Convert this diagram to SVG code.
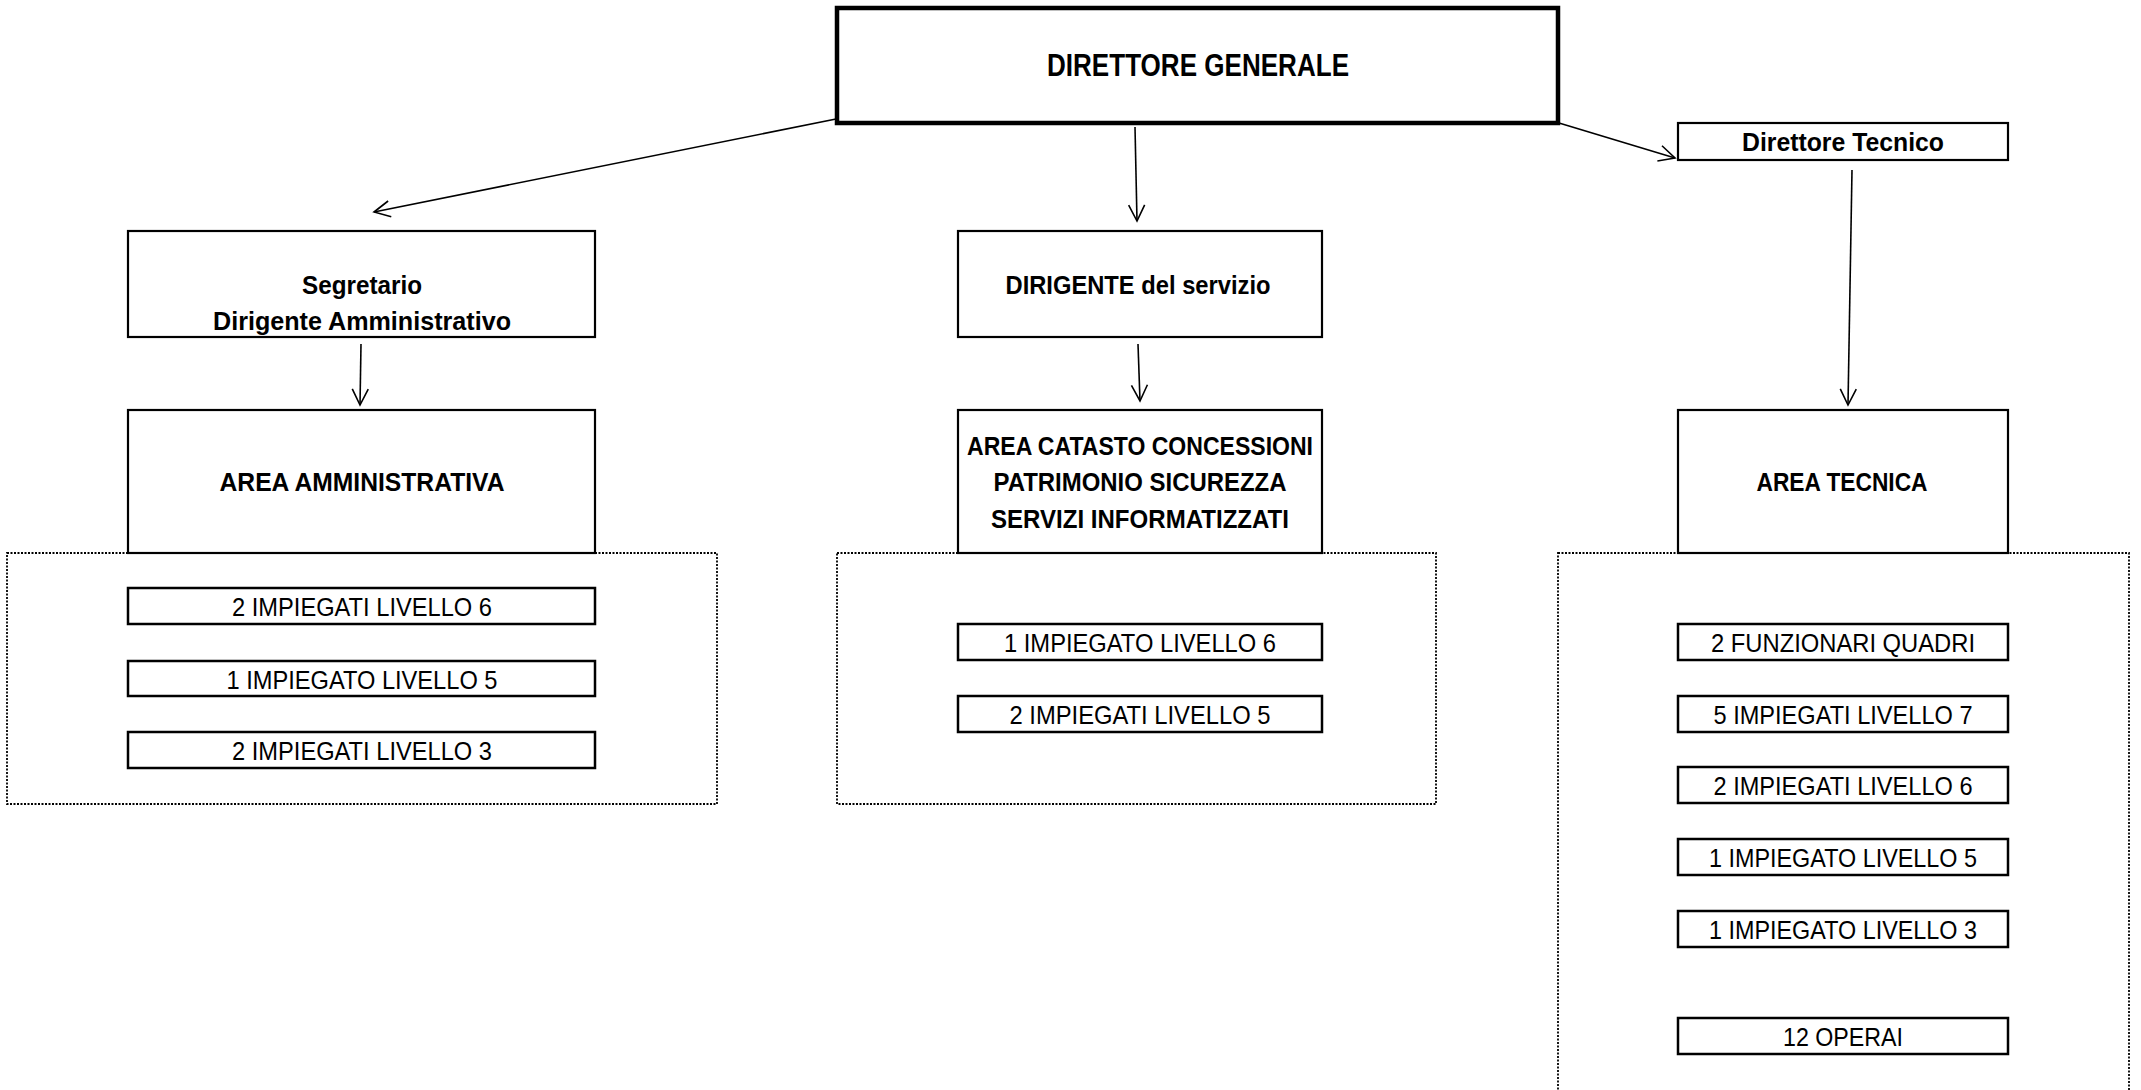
<svg xmlns="http://www.w3.org/2000/svg" width="2141" height="1090" viewBox="0 0 2141 1090">
<style>
.box{fill:#fff;stroke:#000;stroke-width:2.2}
.small{fill:#fff;stroke:#000;stroke-width:2.5}
.dg{fill:#fff;stroke:#000;stroke-width:4.5}
.grp{fill:none;stroke:#000;stroke-width:1.8;stroke-dasharray:2 1.5}
.b{font-family:"Liberation Sans",Arial,sans-serif;font-weight:bold;font-size:26px;text-anchor:middle;fill:#000}
.r{font-family:"Liberation Sans",Arial,sans-serif;font-size:26px;text-anchor:middle;fill:#000}
.con{fill:none;stroke:#000;stroke-width:1.6}
</style>
<defs>
<marker id="arr" markerWidth="20" markerHeight="20" refX="18" refY="10" orient="auto" markerUnits="userSpaceOnUse">
<path d="M2,2 L18,10 L2,18" fill="none" stroke="#000" stroke-width="1.6"/>
</marker>
</defs>
<rect width="2141" height="1090" fill="#fff"/>
<g id="groups">
<rect class="grp" x="7" y="553" width="710" height="251"/>
<rect class="grp" x="837" y="553" width="599" height="251"/>
<rect class="grp" x="1558" y="553" width="571" height="560"/>
</g>
<g id="connectors">
<line class="con" x1="836" y1="119" x2="374" y2="212" marker-end="url(#arr)"/>
<line class="con" x1="1135" y1="127" x2="1137" y2="221" marker-end="url(#arr)"/>
<line class="con" x1="1559" y1="123" x2="1675" y2="158" marker-end="url(#arr)"/>
<line class="con" x1="361" y1="344" x2="360" y2="405" marker-end="url(#arr)"/>
<line class="con" x1="1138" y1="344" x2="1140" y2="401" marker-end="url(#arr)"/>
<line class="con" x1="1852" y1="170" x2="1848" y2="405" marker-end="url(#arr)"/>
</g>
<g id="dg"><rect class="dg" x="837" y="8" width="721" height="115"/><text class="b" style="font-size:31px" x="1198" y="76" textLength="302" lengthAdjust="spacingAndGlyphs">DIRETTORE GENERALE</text></g>
<g id="segretario"><rect class="box" x="128" y="231" width="467" height="106"/><text class="b" x="362" y="294" textLength="120" lengthAdjust="spacingAndGlyphs">Segretario</text><text class="b" x="362" y="330" textLength="298" lengthAdjust="spacingAndGlyphs">Dirigente Amministrativo</text></g>
<g id="area-amm"><rect class="box" x="128" y="410" width="467" height="143"/><text class="b" x="362" y="491" textLength="285" lengthAdjust="spacingAndGlyphs">AREA AMMINISTRATIVA</text></g>
<g id="dirigente"><rect class="box" x="958" y="231" width="364" height="106"/><text class="b" x="1138" y="294" textLength="265" lengthAdjust="spacingAndGlyphs">DIRIGENTE del servizio</text></g>
<g id="area-catasto"><rect class="box" x="958" y="410" width="364" height="143"/><text class="b" x="1140" y="455" textLength="346" lengthAdjust="spacingAndGlyphs">AREA CATASTO CONCESSIONI</text><text class="b" x="1140" y="491" textLength="293" lengthAdjust="spacingAndGlyphs">PATRIMONIO SICUREZZA</text><text class="b" x="1140" y="528" textLength="298" lengthAdjust="spacingAndGlyphs">SERVIZI INFORMATIZZATI</text></g>
<g id="dir-tecnico"><rect class="box" x="1678" y="123" width="330" height="37"/><text class="b" x="1843" y="151" textLength="202" lengthAdjust="spacingAndGlyphs">Direttore Tecnico</text></g>
<g id="area-tecnica"><rect class="box" x="1678" y="410" width="330" height="143"/><text class="b" x="1842" y="491" textLength="171" lengthAdjust="spacingAndGlyphs">AREA TECNICA</text></g>
<g id="l1"><rect class="small" x="128" y="588" width="467" height="36"/><text class="r" x="362" y="616" textLength="260" lengthAdjust="spacingAndGlyphs">2 IMPIEGATI LIVELLO 6</text></g>
<g id="l2"><rect class="small" x="128" y="661" width="467" height="35"/><text class="r" x="362" y="689" textLength="271" lengthAdjust="spacingAndGlyphs">1 IMPIEGATO LIVELLO 5</text></g>
<g id="l3"><rect class="small" x="128" y="732" width="467" height="36"/><text class="r" x="362" y="760" textLength="260" lengthAdjust="spacingAndGlyphs">2 IMPIEGATI LIVELLO 3</text></g>
<g id="m1"><rect class="small" x="958" y="624" width="364" height="36"/><text class="r" x="1140" y="652" textLength="272" lengthAdjust="spacingAndGlyphs">1 IMPIEGATO LIVELLO 6</text></g>
<g id="m2"><rect class="small" x="958" y="696" width="364" height="36"/><text class="r" x="1140" y="724" textLength="261" lengthAdjust="spacingAndGlyphs">2 IMPIEGATI LIVELLO 5</text></g>
<g id="r1"><rect class="small" x="1678" y="624" width="330" height="36"/><text class="r" x="1843" y="652" textLength="264" lengthAdjust="spacingAndGlyphs">2 FUNZIONARI QUADRI</text></g>
<g id="r2"><rect class="small" x="1678" y="696" width="330" height="36"/><text class="r" x="1843" y="724" textLength="259" lengthAdjust="spacingAndGlyphs">5 IMPIEGATI LIVELLO 7</text></g>
<g id="r3"><rect class="small" x="1678" y="767" width="330" height="36"/><text class="r" x="1843" y="795" textLength="259" lengthAdjust="spacingAndGlyphs">2 IMPIEGATI LIVELLO 6</text></g>
<g id="r4"><rect class="small" x="1678" y="839" width="330" height="36"/><text class="r" x="1843" y="867" textLength="268" lengthAdjust="spacingAndGlyphs">1 IMPIEGATO LIVELLO 5</text></g>
<g id="r5"><rect class="small" x="1678" y="911" width="330" height="36"/><text class="r" x="1843" y="939" textLength="268" lengthAdjust="spacingAndGlyphs">1 IMPIEGATO LIVELLO 3</text></g>
<g id="r6"><rect class="small" x="1678" y="1018" width="330" height="36"/><text class="r" x="1843" y="1046" textLength="120" lengthAdjust="spacingAndGlyphs">12 OPERAI</text></g>
</svg>
